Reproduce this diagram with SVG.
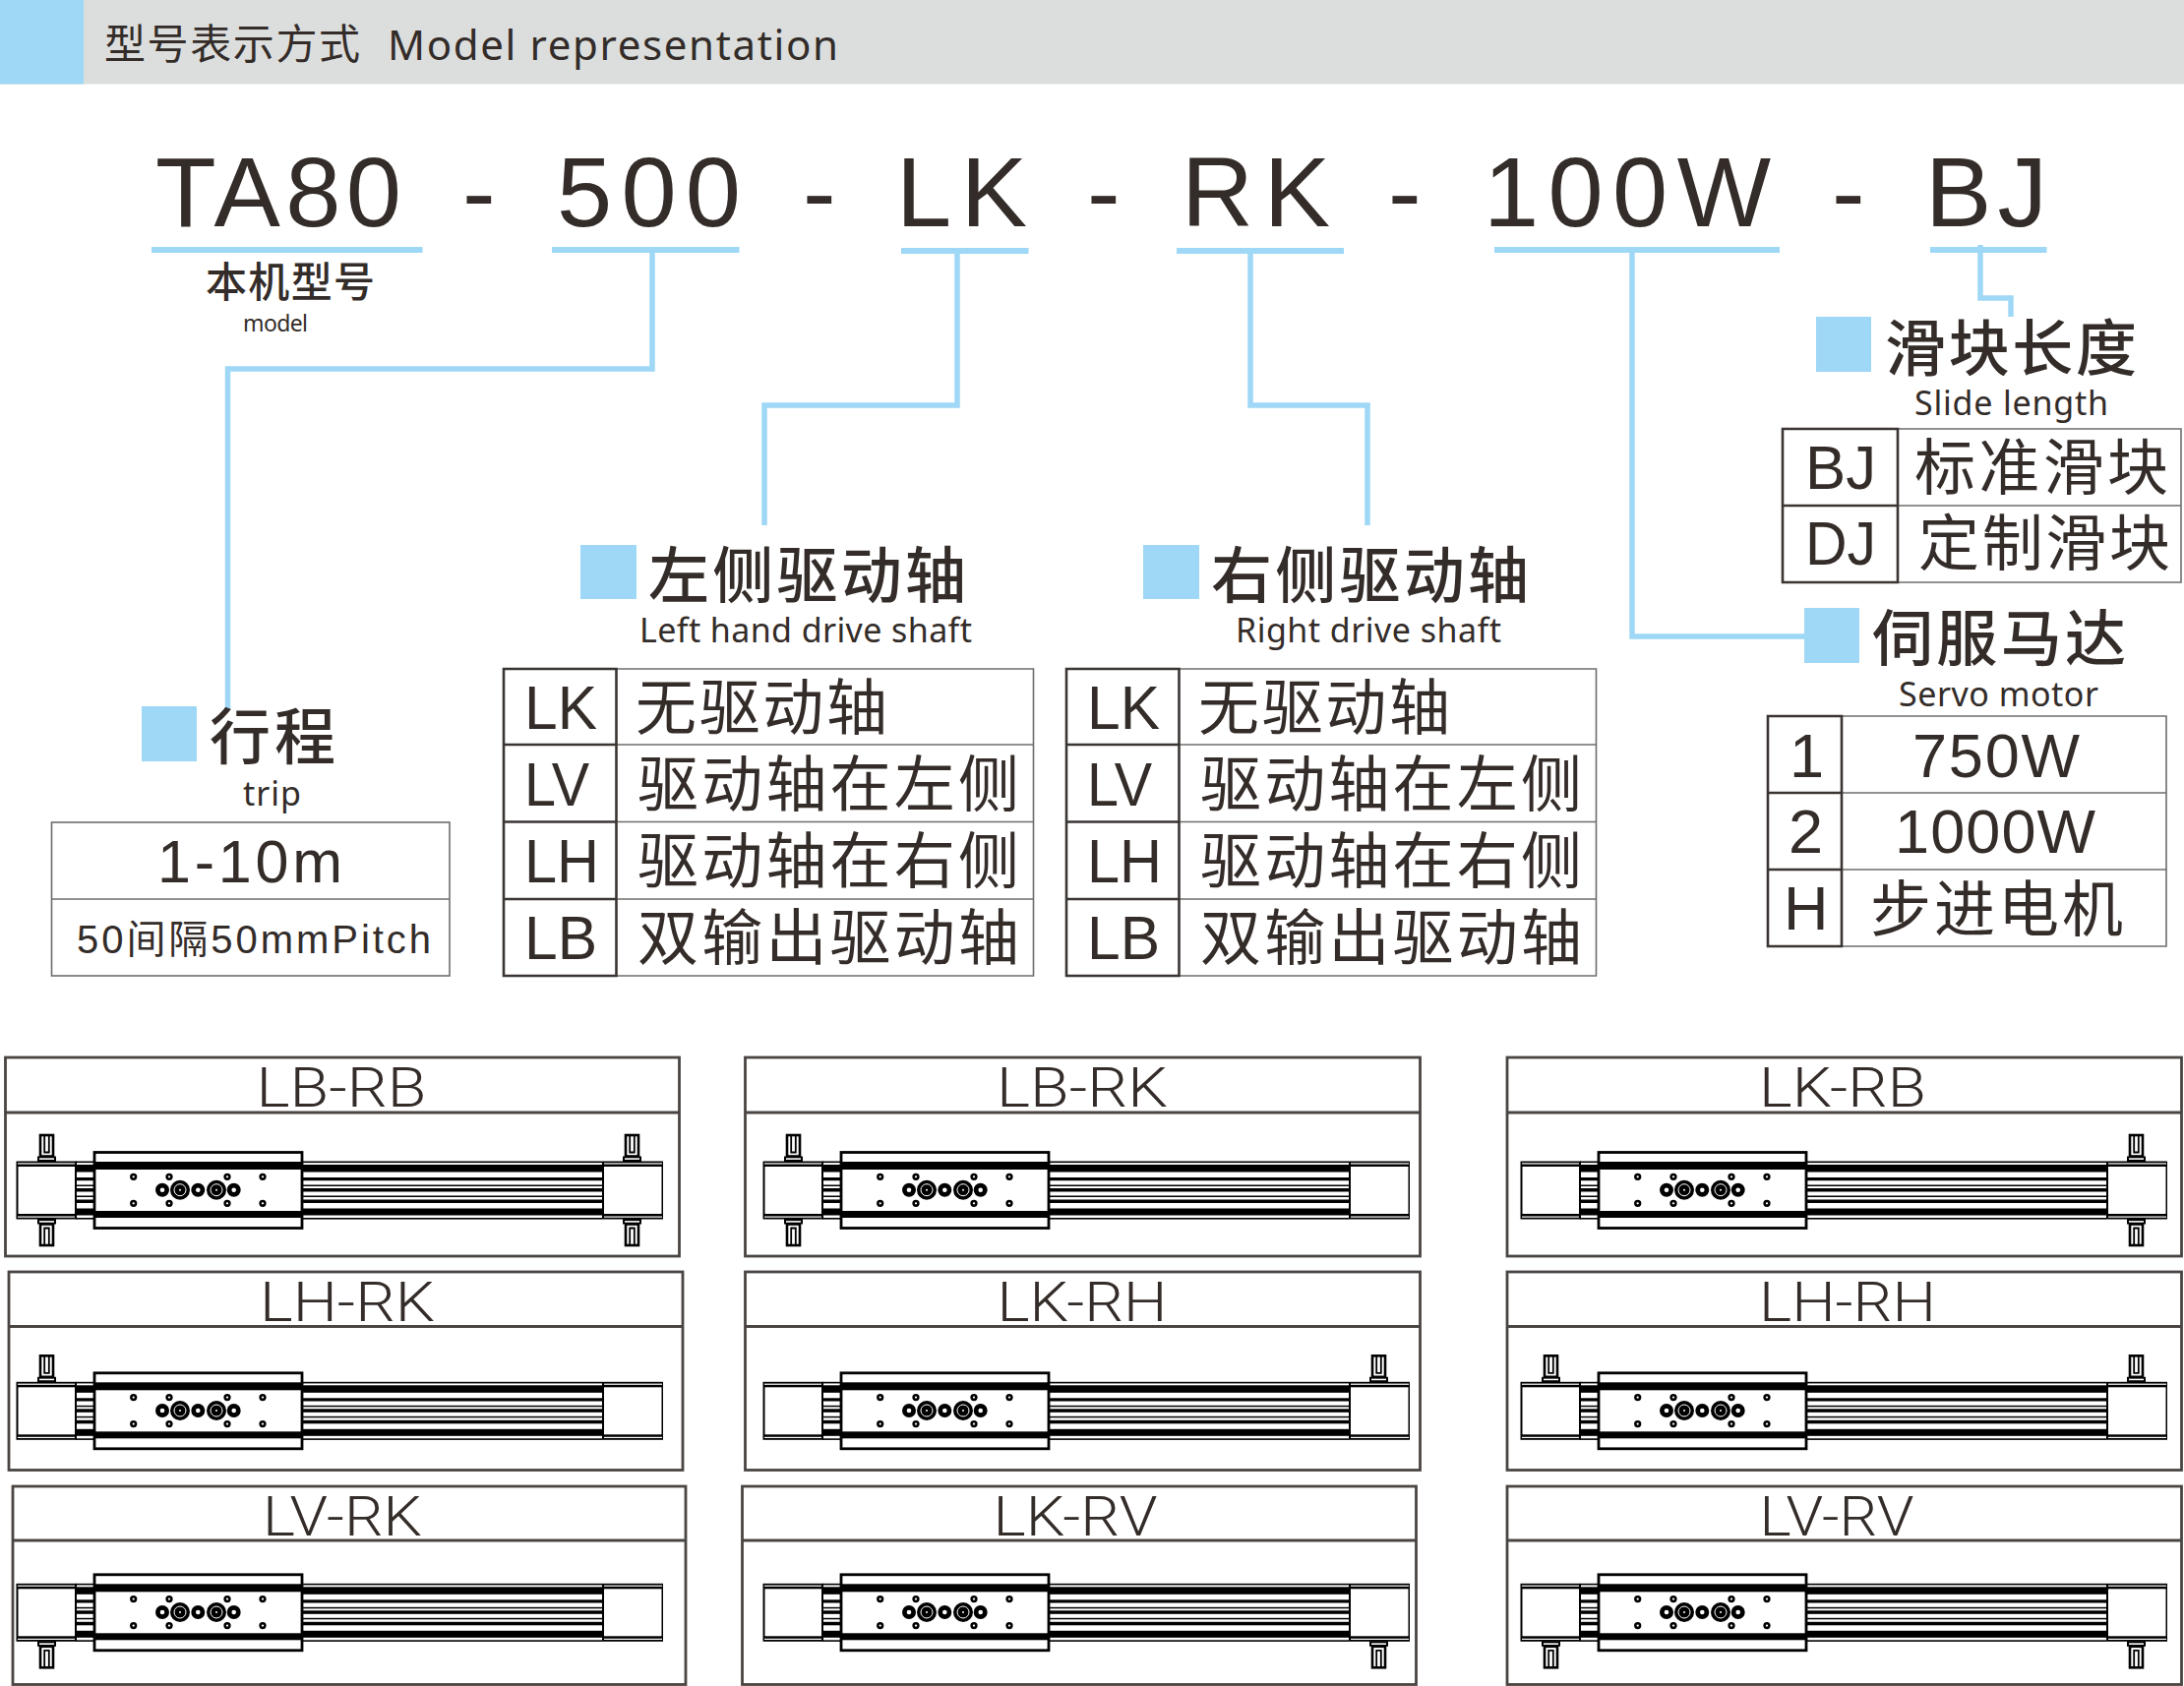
<svg xmlns="http://www.w3.org/2000/svg" xmlns:xlink="http://www.w3.org/1999/xlink" width="2220" height="1714" viewBox="0 0 2220 1714">
<style>
text{fill:#332c29;font-family:"Liberation Sans","Noto Sans CJK SC",sans-serif}
.cjk{font-family:"Noto Sans CJK SC",sans-serif}
.en{font-family:"Noto Sans","Noto Sans CJK SC",sans-serif}
.h{font-size:62px;font-weight:500}
.c{font-size:62px}
.s{font-size:34px}
.a{font-size:63px}
.big{font-size:101px}
.lab{font-family:Roboto,"Liberation Sans",sans-serif;font-weight:350;font-size:56px;text-anchor:middle}
.blue{fill:#9fd8f6}
.ln{fill:none;stroke:#9fd8f6;stroke-width:5.5}
.thick{fill:none;stroke:#3a3533;stroke-width:2.6}
.thin{fill:none;stroke:#6f6d6b;stroke-width:1.6}
.box{fill:#fff;stroke:#4a4542;stroke-width:2.8}
.k{fill:#000}
.o{fill:#fff;stroke:#000;stroke-width:2.6}
</style>
<defs>
<g id="mech">
<rect class="k" x="77" y="1180.5" width="535" height="1.6"/>
<rect class="k" x="77" y="1184" width="535" height="7.5"/>
<rect class="k" x="77" y="1197" width="535" height="3.2"/>
<rect class="k" x="77" y="1204.5" width="535" height="1.5"/>
<rect class="k" x="77" y="1208" width="535" height="3.5"/>
<rect class="k" x="77" y="1215.5" width="535" height="1.5"/>
<rect class="k" x="77" y="1219.5" width="535" height="3.5"/>
<rect class="k" x="77" y="1228.5" width="535" height="7"/>
<rect class="k" x="77" y="1238" width="535" height="1.6"/>
<rect class="k" x="16.5" y="1180.5" width="61.5" height="59"/>
<rect x="18.5" y="1186" width="57.5" height="48" fill="#fff"/>
<rect x="18" y="1182.3" width="58" height="1.2" fill="#fff"/>
<rect x="18" y="1236.5" width="58" height="1.2" fill="#fff"/>
<rect class="k" x="612" y="1180.5" width="62" height="59"/>
<rect x="614" y="1186" width="58.500" height="48" fill="#fff"/>
<rect x="614" y="1182.3" width="59" height="1.2" fill="#fff"/>
<rect x="614" y="1236.5" width="59" height="1.2" fill="#fff"/>
<rect x="96" y="1171.500" width="211" height="77" fill="#fff" stroke="#000" stroke-width="2.800"/>
<rect class="k" x="95" y="1181" width="213" height="8"/>
<rect class="k" x="95" y="1231" width="213" height="7"/>
<g fill="#fff" stroke="#000" stroke-width="2.500">
<circle cx="135.700" cy="1196.300" r="2.400"/><circle cx="172" cy="1196.300" r="2.400"/><circle cx="231" cy="1196.300" r="2.400"/><circle cx="267" cy="1196.300" r="2.400"/>
<circle cx="135.700" cy="1223.300" r="2.400"/><circle cx="172" cy="1223.300" r="2.400"/><circle cx="231" cy="1223.300" r="2.400"/><circle cx="267" cy="1223.300" r="2.400"/>
</g>
<g fill="#000"><circle cx="165" cy="1209.700" r="7"/><circle cx="201.300" cy="1209.700" r="7"/><circle cx="237.700" cy="1209.700" r="7"/><circle cx="183" cy="1209.700" r="10"/><circle cx="220" cy="1209.700" r="10"/></g>
<g fill="#fff"><circle cx="165" cy="1209.700" r="2.300"/><circle cx="201.300" cy="1209.700" r="2.300"/><circle cx="237.700" cy="1209.700" r="2.300"/></g>
<g fill="none" stroke="#fff" stroke-width="1"><circle cx="183" cy="1209.700" r="6"/><circle cx="220" cy="1209.700" r="6"/></g>
<g fill="#fff"><circle cx="183" cy="1209.700" r="1"/><circle cx="220" cy="1209.700" r="1"/></g>
</g>
<g id="stud">
<rect class="k" x="38" y="1175.500" width="19" height="5.500"/>
<rect x="40" y="1177.300" width="15" height="1.600" fill="#fff"/>
<rect class="o" x="41" y="1154" width="13" height="21.500"/>
<path d="M45.200 1154V1171.500H49.800V1154" fill="none" stroke="#000" stroke-width="1.800"/>
</g>
<use id="stud-tl" xlink:href="#stud"/>
<use id="stud-tr" xlink:href="#stud" transform="translate(595 0)"/>
<use id="stud-bl" xlink:href="#stud" transform="matrix(1 0 0 -1 0 2420)"/>
<use id="stud-br" xlink:href="#stud" transform="matrix(1 0 0 -1 595 2420)"/>
</defs>

<g id="header">
<rect x="0" y="0" width="2220" height="85.500" fill="#dcdedd"/>
<rect class="blue" x="0" y="0" width="85" height="85.500"/>
<text class="cjk" x="106" y="60" font-size="42" textLength="260">型号表示方式</text>
<text class="en" x="394" y="61" font-size="42" textLength="458">Model representation</text>
</g>

<g id="model-code">
<text class="big" x="158" y="230" textLength="250">TA80</text>
<text class="big" x="470" y="230" textLength="34">-</text>
<text class="big" x="566" y="230" textLength="187">500</text>
<text class="big" x="816" y="230" textLength="34">-</text>
<text class="big" x="911" y="230" textLength="133">LK</text>
<text class="big" x="1105" y="230" textLength="34">-</text>
<text class="big" x="1201" y="230" textLength="151">RK</text>
<text class="big" x="1411" y="230" textLength="34">-</text>
<text class="big" x="1508" y="230" textLength="292">100W</text>
<text class="big" x="1862" y="230" textLength="34">-</text>
<text class="big" x="1957" y="230" textLength="124">BJ</text>
</g>

<g id="connectors">
<g class="blue">
<rect x="154" y="251" width="275.500" height="6"/>
<rect x="561" y="251" width="190.500" height="6"/>
<rect x="916" y="252" width="129.500" height="6"/>
<rect x="1196" y="252" width="170" height="6"/>
<rect x="1519" y="251" width="290" height="6"/>
<rect x="1962" y="251" width="118.500" height="6"/>
</g>
<path class="ln" d="M663 257V375H231.500V722"/>
<path class="ln" d="M973 258V412H777V534"/>
<path class="ln" d="M1271 258V412H1390V534"/>
<path class="ln" d="M1659 257V647H1834"/>
<path class="ln" d="M2013 249V303H2044V322"/>
</g>

<g id="model">
<text class="cjk" x="209" y="302" font-size="42" textLength="172" font-weight="500">本机型号</text>
<text class="en" x="247" y="337" font-size="23" textLength="66">model</text>
</g>

<g id="trip">
<rect class="blue" x="144" y="718" width="56" height="56"/>
<text class="cjk h" x="213" y="772" textLength="128">行程</text>
<text class="en s" x="247" y="819" textLength="59">trip</text>
<rect class="thin" x="52.500" y="836" width="404.500" height="156"/>
<path class="thin" d="M52.500 914H457"/>
<text x="160" y="897" font-size="61" textLength="188">1-10m</text>
<text x="78" y="969" font-size="40" textLength="360">50间隔50mmPitch</text>
</g>

<g id="left-drive">
<rect class="blue" x="590" y="554" width="57" height="55"/>
<text class="cjk h" x="659" y="608" textLength="323">左侧驱动轴</text>
<text class="en s" x="650" y="653" textLength="338">Left hand drive shaft</text>
<path class="thin" d="M626.500 680H1050.500V992H626.500M626.500 757H1050.500M626.500 835.500H1050.500M626.500 914H1050.500"/>
<path class="thick" d="M512 680H626.500V992H512ZM512 757H626.500M512 835.500H626.500M512 914H626.500"/>
<text class="a" x="533" y="741" textLength="74" lengthAdjust="spacingAndGlyphs">LK</text>
<text class="a" x="533" y="819" textLength="66" lengthAdjust="spacingAndGlyphs">LV</text>
<text class="a" x="533" y="897" textLength="76" lengthAdjust="spacingAndGlyphs">LH</text>
<text class="a" x="533" y="975" textLength="74" lengthAdjust="spacingAndGlyphs">LB</text>
<text class="cjk c" x="646" y="742" textLength="256">无驱动轴</text>
<text class="cjk c" x="648" y="820" textLength="388">驱动轴在左侧</text>
<text class="cjk c" x="648" y="898" textLength="388">驱动轴在右侧</text>
<text class="cjk c" x="648" y="976" textLength="388">双输出驱动轴</text>
</g>

<g id="right-drive">
<rect class="blue" x="1162" y="554" width="57" height="55"/>
<text class="cjk h" x="1231" y="608" textLength="323">右侧驱动轴</text>
<text class="en s" x="1256" y="653" textLength="270">Right drive shaft</text>
<path class="thin" d="M1198.500 680H1622.500V992H1198.500M1198.500 757H1622.500M1198.500 835.500H1622.500M1198.500 914H1622.500"/>
<path class="thick" d="M1084 680H1198.500V992H1084ZM1084 757H1198.500M1084 835.500H1198.500M1084 914H1198.500"/>
<text class="a" x="1105" y="741" textLength="74" lengthAdjust="spacingAndGlyphs">LK</text>
<text class="a" x="1105" y="819" textLength="66" lengthAdjust="spacingAndGlyphs">LV</text>
<text class="a" x="1105" y="897" textLength="76" lengthAdjust="spacingAndGlyphs">LH</text>
<text class="a" x="1105" y="975" textLength="74" lengthAdjust="spacingAndGlyphs">LB</text>
<text class="cjk c" x="1218" y="742" textLength="256">无驱动轴</text>
<text class="cjk c" x="1220" y="820" textLength="388">驱动轴在左侧</text>
<text class="cjk c" x="1220" y="898" textLength="388">驱动轴在右侧</text>
<text class="cjk c" x="1220" y="976" textLength="388">双输出驱动轴</text>
</g>

<g id="slide-length">
<rect class="blue" x="1846" y="322" width="56" height="56"/>
<text class="cjk h" x="1916" y="377" textLength="256">滑块长度</text>
<text class="en s" x="1946" y="422" textLength="197">Slide length</text>
<path class="thin" d="M1929 436H2217V592H1929M1929 514H2217"/>
<path class="thick" d="M1812 436H1929V592H1812ZM1812 514H1929"/>
<text class="a" x="1835" y="497" textLength="72" lengthAdjust="spacingAndGlyphs">BJ</text>
<text class="a" x="1835" y="574" textLength="72" lengthAdjust="spacingAndGlyphs">DJ</text>
<text class="cjk c" x="1946" y="498" textLength="258">标准滑块</text>
<text class="cjk c" x="1950" y="575" textLength="256">定制滑块</text>
</g>

<g id="servo-motor">
<rect class="blue" x="1834" y="618" width="56" height="56"/>
<text class="cjk h" x="1903" y="672" textLength="258">伺服马达</text>
<text class="en s" x="1930" y="718" textLength="203">Servo motor</text>
<path class="thin" d="M1872 728H2202V962H1872M1872 806H2202M1872 884H2202"/>
<path class="thick" d="M1797 728H1872V962H1797ZM1797 806H1872M1797 884H1872"/>
<text class="a" x="1819" y="790">1</text>
<text class="a" x="1818" y="867">2</text>
<text class="a" x="1813" y="945">H</text>
<text class="a" x="1944" y="790" textLength="170">750W</text>
<text class="a" x="1926" y="867" textLength="204">1000W</text>
<text class="cjk c" x="1901" y="947" textLength="257">步进电机</text>
</g>

<g id="unit-LB-RB"><rect class="box" x="5.500" y="1075" width="685" height="202"/><path class="box" d="M5.500 1131H690.500"/><text class="lab" x="347" y="1125" textLength="173" lengthAdjust="spacingAndGlyphs">LB-RB</text><use xlink:href="#mech"/><use xlink:href="#stud-tl"/><use xlink:href="#stud-bl"/><use xlink:href="#stud-tr"/><use xlink:href="#stud-br"/></g>
<g id="unit-LB-RK"><rect class="box" x="757.500" y="1075" width="686" height="202"/><path class="box" d="M757.500 1131H1443.500"/><text class="lab" x="1100" y="1125" textLength="174" lengthAdjust="spacingAndGlyphs">LB-RK</text><g transform="translate(759 0)"><use xlink:href="#mech"/><use xlink:href="#stud-tl"/><use xlink:href="#stud-bl"/></g></g>
<g id="unit-LK-RB"><rect class="box" x="1532" y="1075" width="685.500" height="202"/><path class="box" d="M1532 1131H2217.500"/><text class="lab" x="1873" y="1125" textLength="170" lengthAdjust="spacingAndGlyphs">LK-RB</text><g transform="translate(1529 0)"><use xlink:href="#mech"/><use xlink:href="#stud-tr"/><use xlink:href="#stud-br"/></g></g>

<g id="unit-LH-RK"><rect class="box" x="9" y="1293" width="685" height="201.500"/><path class="box" d="M9 1348.500H694"/><text class="lab" x="353" y="1343" textLength="178" lengthAdjust="spacingAndGlyphs">LH-RK</text><g transform="translate(0 224.300)"><use xlink:href="#mech"/><use xlink:href="#stud-tl"/></g></g>
<g id="unit-LK-RH"><rect class="box" x="757.500" y="1293" width="686" height="201.500"/><path class="box" d="M757.500 1348.500H1443.500"/><text class="lab" x="1100" y="1343" textLength="173" lengthAdjust="spacingAndGlyphs">LK-RH</text><g transform="translate(759 224.300)"><use xlink:href="#mech"/><use xlink:href="#stud-tr"/></g></g>
<g id="unit-LH-RH"><rect class="box" x="1532" y="1293" width="685.500" height="201.500"/><path class="box" d="M1532 1348.500H2217.500"/><text class="lab" x="1878" y="1343" textLength="180" lengthAdjust="spacingAndGlyphs">LH-RH</text><g transform="translate(1529 224.300)"><use xlink:href="#mech"/><use xlink:href="#stud-tl"/><use xlink:href="#stud-tr"/></g></g>

<g id="unit-LV-RK"><rect class="box" x="13" y="1511" width="684" height="201.500"/><path class="box" d="M13 1566H697"/><text class="lab" x="348" y="1561" textLength="162" lengthAdjust="spacingAndGlyphs">LV-RK</text><g transform="translate(0 429.300)"><use xlink:href="#mech"/><use xlink:href="#stud-bl"/></g></g>
<g id="unit-LK-RV"><rect class="box" x="754.500" y="1511" width="685" height="201.500"/><path class="box" d="M754.500 1566H1439.500"/><text class="lab" x="1093" y="1561" textLength="167" lengthAdjust="spacingAndGlyphs">LK-RV</text><g transform="translate(759 429.300)"><use xlink:href="#mech"/><use xlink:href="#stud-br"/></g></g>
<g id="unit-LV-RV"><rect class="box" x="1532" y="1511" width="685.500" height="201.500"/><path class="box" d="M1532 1566H2217.500"/><text class="lab" x="1867" y="1561" textLength="157" lengthAdjust="spacingAndGlyphs">LV-RV</text><g transform="translate(1529 429.300)"><use xlink:href="#mech"/><use xlink:href="#stud-bl"/><use xlink:href="#stud-br"/></g></g>
</svg>
